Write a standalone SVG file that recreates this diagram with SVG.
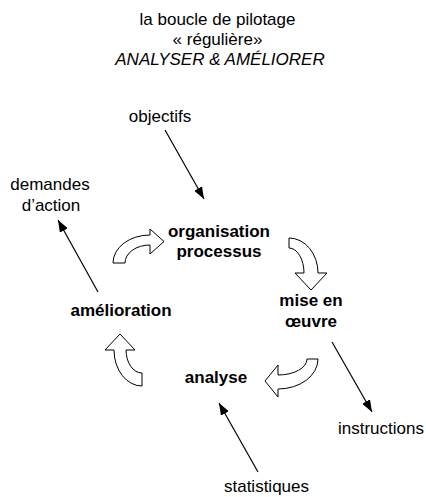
<svg xmlns="http://www.w3.org/2000/svg" width="426" height="497" viewBox="0 0 426 497">
  <style>
    text { font-family: "Liberation Sans", Arial, sans-serif; font-size: 17px; fill: #000; text-anchor: middle; }
    .b { font-weight: bold; }
    .i { font-style: italic; }
    .link { stroke: #000; stroke-width: 1.2; fill: none; marker-end: url(#head); }
    .turn { fill: #fff; stroke: #000; stroke-width: 1; stroke-linejoin: miter; }
  </style>
  <defs>
    <marker id="head" markerUnits="userSpaceOnUse" markerWidth="13" markerHeight="10" refX="12" refY="4.5" orient="auto">
      <path d="M0,0 L12,4.5 L0,9 z" fill="#000"/>
    </marker>
  </defs>
  <rect width="426" height="497" fill="#fff"/>

  <!-- title -->
  <g id="title">
    <text x="217.5" y="25">la boucle de pilotage</text>
    <text x="217.5" y="45">« régulière»</text>
    <text x="220" y="65" class="i">ANALYSER &amp; AMÉLIORER</text>
  </g>

  <!-- cycle nodes -->
  <g id="organisation">
    <text x="219" y="237" class="b">organisation</text>
    <text x="219" y="257" class="b">processus</text>
  </g>
  <g id="mise-en-oeuvre">
    <text x="311" y="306" class="b">mise en</text>
    <text x="311" y="327" class="b">œuvre</text>
  </g>
  <g id="analyse">
    <text x="216" y="383" class="b">analyse</text>
  </g>
  <g id="amelioration">
    <text x="121" y="316" class="b">amélioration</text>
  </g>

  <!-- inputs and outputs -->
  <g id="objectifs">
    <text x="160" y="122">objectifs</text>
  </g>
  <g id="demandes">
    <text x="50" y="190">demandes</text>
    <text x="51" y="211">d’action</text>
  </g>
  <g id="instructions">
    <text x="381" y="434">instructions</text>
  </g>
  <g id="statistiques">
    <text x="266.5" y="492">statistiques</text>
  </g>

  <!-- curved block arrows between the stages of the loop -->
  <g id="cycle-arrows">
    <path class="turn" d="M113,263 A37,28 0 0 1 150,235 L150,229 L164,241.5 L150,254 L150,245 A25,18 0 0 0 125,263 Z"/>
    <path class="turn" d="M289,238 A29,35 0 0 1 318,273 L327,273 L311,290 L295,273 L304,273 A15,25 0 0 0 289,248 Z"/>
    <path class="turn" d="M318,359 A40,30 0 0 1 278,389 L278,397 L265,381 L278,365 L278,375 A29,16 0 0 0 307,359 Z"/>
    <path class="turn" d="M142,386 A28,36 0 0 1 114,350 L105,350 L120,334 L135,350 L126,350 A16,23 0 0 0 142,373 Z"/>
  </g>

  <!-- straight connectors -->
  <g id="connectors">
    <line class="link" x1="165" y1="130" x2="204" y2="199"/>
    <line class="link" x1="98" y1="292" x2="58" y2="220"/>
    <line class="link" x1="332" y1="342" x2="372" y2="412"/>
    <line class="link" x1="258" y1="472" x2="219" y2="403"/>
  </g>
</svg>
